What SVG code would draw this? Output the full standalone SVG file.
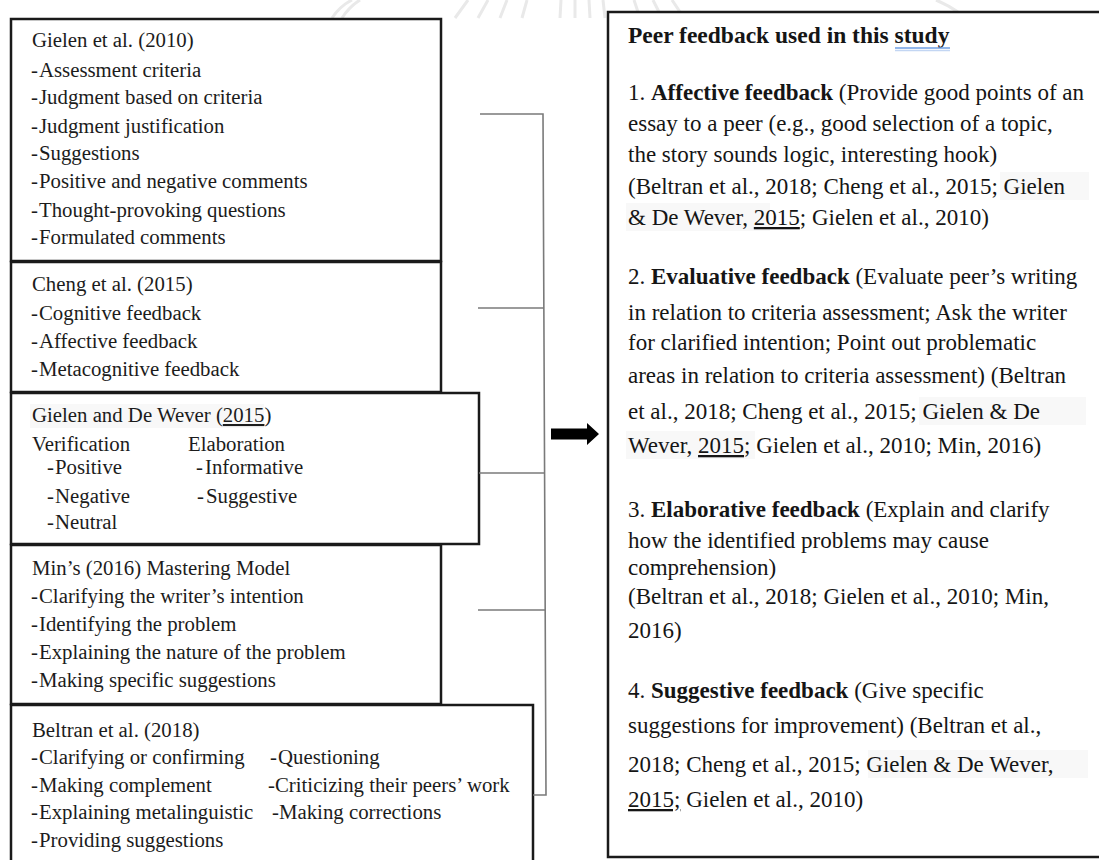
<svg xmlns="http://www.w3.org/2000/svg" width="1099" height="860" viewBox="0 0 1099 860">
  <style>
    .box { fill: #ffffff; stroke: #1a1a1a; stroke-width: 2.5; }
    .lt { font-family: "Liberation Serif", "Times New Roman", serif; font-size: 20.8px; fill: #1c1c1c; }
    .rt { font-family: "Liberation Serif", "Times New Roman", serif; font-size: 23px; fill: #151515; }
    .title { font-size: 23.5px; }
    .b { font-weight: bold; }
    .u { text-decoration: underline; }
    .hl { fill: #f8f8f8; }
    .link { fill: none; stroke: #7a7a7a; stroke-width: 1.6; }
    .mark { fill: none; stroke: #e9e9e9; stroke-width: 3; }
  </style>

  <rect width="1099" height="860" fill="#ffffff"/>

  <!-- faint seal watermark along the top edge -->
  <g id="watermark">
    <path class="mark" d="M332 18 Q340 6 352 0"/>
    <path class="mark" d="M342 18 Q349 7 360 0"/>
    <path class="mark" d="M958 12 Q948 5 936 0"/>
    <path class="mark" d="M455 18 L468 0 M478 18 L488 0 M500 18 L507 0 M522 18 L527 0"/>
    <path class="mark" d="M560 18 L561 0 M575 18 L575 0 M590 18 L589 0 M605 18 L603 0"/>
    <path class="mark" d="M640 18 L634 0 M662 18 L653 0 M684 18 L672 0"/>
  </g>

  <!-- source boxes (left column) -->
  <g id="node-gielen-2010">
    <rect class="box" x="11" y="19" width="430" height="242"/>
    <text class="lt" x="32" y="47">Gielen et al. (2010)</text>
    <text class="lt" y="77"><tspan x="31">-</tspan> <tspan x="39">Assessment criteria</tspan></text>
    <text class="lt" y="104"><tspan x="31">-</tspan> <tspan x="39">Judgment based on criteria</tspan></text>
    <text class="lt" y="133"><tspan x="31">-</tspan> <tspan x="39">Judgment justification</tspan></text>
    <text class="lt" y="160"><tspan x="31">-</tspan> <tspan x="39">Suggestions</tspan></text>
    <text class="lt" y="188"><tspan x="31">-</tspan> <tspan x="39">Positive and negative comments</tspan></text>
    <text class="lt" y="217"><tspan x="31">-</tspan> <tspan x="39">Thought-provoking questions</tspan></text>
    <text class="lt" y="244"><tspan x="31">-</tspan> <tspan x="39">Formulated comments</tspan></text>
  </g>

  <g id="node-cheng-2015">
    <rect class="box" x="11" y="262" width="430" height="130"/>
    <text class="lt" x="32" y="291">Cheng et al. (2015)</text>
    <text class="lt" y="320"><tspan x="31">-</tspan> <tspan x="39">Cognitive feedback</tspan></text>
    <text class="lt" y="348"><tspan x="31">-</tspan> <tspan x="39">Affective feedback</tspan></text>
    <text class="lt" y="376"><tspan x="31">-</tspan> <tspan x="39">Metacognitive feedback</tspan></text>
  </g>

  <g id="node-gielen-dewever-2015">
    <rect class="box" x="11" y="393" width="468" height="151"/>
    <rect class="hl" x="30" y="404" width="234" height="24"/>
    <text class="lt" x="32" y="422">Gielen and De Wever (<tspan class="u">2015</tspan>)</text>
    <text class="lt" x="32" y="451">Verification</text>
    <text class="lt" x="188" y="451">Elaboration</text>
    <text class="lt" y="474"><tspan x="47">-</tspan> <tspan x="55">Positive</tspan></text>
    <text class="lt" y="474"><tspan x="196">-</tspan> <tspan x="205">Informative</tspan></text>
    <text class="lt" y="503"><tspan x="47">-</tspan> <tspan x="55">Negative</tspan></text>
    <text class="lt" y="503"><tspan x="197">-</tspan> <tspan x="206">Suggestive</tspan></text>
    <text class="lt" y="529"><tspan x="47">-</tspan> <tspan x="55">Neutral</tspan></text>
  </g>

  <g id="node-min-2016">
    <rect class="box" x="11" y="545" width="430" height="159"/>
    <text class="lt" x="32" y="575">Min’s (2016) Mastering Model</text>
    <text class="lt" y="603"><tspan x="31">-</tspan> <tspan x="39">Clarifying the writer’s intention</tspan></text>
    <text class="lt" y="631"><tspan x="31">-</tspan> <tspan x="39">Identifying the problem</tspan></text>
    <text class="lt" y="659"><tspan x="31">-</tspan> <tspan x="39">Explaining the nature of the problem</tspan></text>
    <text class="lt" y="687"><tspan x="31">-</tspan> <tspan x="39">Making specific suggestions</tspan></text>
  </g>

  <g id="node-beltran-2018">
    <rect class="box" x="11" y="705" width="522" height="162"/>
    <text class="lt" x="32" y="737">Beltran et al. (2018)</text>
    <text class="lt" y="764"><tspan x="31">-</tspan> <tspan x="39">Clarifying or confirming</tspan></text>
    <text class="lt" y="764"><tspan x="270">-</tspan> <tspan x="278">Questioning</tspan></text>
    <text class="lt" y="792"><tspan x="31">-</tspan> <tspan x="39">Making complement</tspan></text>
    <text class="lt" y="792"><tspan x="268">-</tspan> <tspan x="275">Criticizing their peers’ work</tspan></text>
    <text class="lt" y="819"><tspan x="31">-</tspan> <tspan x="39">Explaining metalinguistic</tspan></text>
    <text class="lt" y="819"><tspan x="272">-</tspan> <tspan x="279">Making corrections</tspan></text>
    <text class="lt" y="847"><tspan x="31">-</tspan> <tspan x="39">Providing suggestions</tspan></text>
  </g>

  <!-- bracket gathering the sources, and the block arrow -->
  <g id="connectors">
    <path class="link" d="M480 114 H543 L546 795 H533"/>
    <path class="link" d="M478 308 H544"/>
    <path class="link" d="M479 473 H545"/>
    <path class="link" d="M478 610 H545"/>
    <path d="M551 428.5 H587 V423 L599 434 L587 445 V439.5 H551 Z" fill="#000000"/>
  </g>

  <!-- summary box (right column) -->
  <g id="node-peer-feedback">
    <rect class="box" x="608" y="12" width="500" height="845"/>
    <text class="rt b title" x="628" y="43">Peer feedback used in this study</text>
    <path d="M895 48 H950" stroke="#6f9fe3" stroke-width="1.4"/>
    <path d="M895 50.5 H950" stroke="#c3d6f3" stroke-width="1.4"/>

    <rect class="hl" x="1000" y="172" width="89" height="28"/>
    <rect class="hl" x="626" y="203" width="144" height="28"/>
    <rect class="hl" x="919" y="397" width="167" height="28"/>
    <rect class="hl" x="626" y="431" width="129" height="28"/>
    <rect class="hl" x="868" y="750" width="220" height="28"/>

    <text class="rt" x="628" y="100">1. <tspan class="b">Affective feedback</tspan> (Provide good points of an</text>
    <text class="rt" x="628" y="131">essay to a peer (e.g., good selection of a topic,</text>
    <text class="rt" x="628" y="162">the story sounds logic, interesting hook)</text>
    <text class="rt" x="628" y="194">(Beltran et al., 2018; Cheng et al., 2015; Gielen</text>
    <text class="rt" x="628" y="225">&amp; De Wever, <tspan class="u">2015</tspan>; Gielen et al., 2010)</text>

    <text class="rt" x="628" y="284">2. <tspan class="b">Evaluative feedback</tspan> (Evaluate peer’s writing</text>
    <text class="rt" x="628" y="320">in relation to criteria assessment; Ask the writer</text>
    <text class="rt" x="628" y="350">for clarified intention; Point out problematic</text>
    <text class="rt" x="628" y="383">areas in relation to criteria assessment) (Beltran</text>
    <text class="rt" x="628" y="419">et al., 2018; Cheng et al., 2015; Gielen &amp; De</text>
    <text class="rt" x="628" y="453">Wever, <tspan class="u">2015</tspan>; Gielen et al., 2010; Min, 2016)</text>

    <text class="rt" x="628" y="517">3. <tspan class="b">Elaborative feedback</tspan> (Explain and clarify</text>
    <text class="rt" x="628" y="548">how the identified problems may cause</text>
    <text class="rt" x="628" y="575">comprehension)</text>
    <text class="rt" x="628" y="604">(Beltran et al., 2018; Gielen et al., 2010; Min,</text>
    <text class="rt" x="628" y="638">2016)</text>

    <text class="rt" x="628" y="698">4. <tspan class="b">Suggestive feedback</tspan> (Give specific</text>
    <text class="rt" x="628" y="733">suggestions for improvement) (Beltran et al.,</text>
    <text class="rt" x="628" y="772">2018; Cheng et al., 2015; Gielen &amp; De Wever,</text>
    <text class="rt" x="628" y="807"><tspan class="u">2015;</tspan> Gielen et al., 2010)</text>
  </g>
</svg>
